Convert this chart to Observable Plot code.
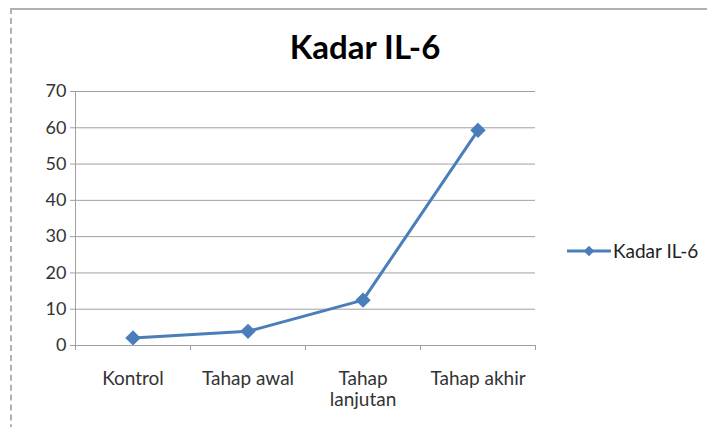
<!DOCTYPE html>
<html>
<head>
<meta charset="utf-8">
<script src="https://cdn.jsdelivr.net/npm/d3@7"></script>
<script src="https://cdn.jsdelivr.net/npm/@observablehq/plot@0.6"></script>
<style>
  html, body { margin: 0; padding: 0; background: #fff; }
  body { width: 707px; height: 427px; position: relative; overflow: hidden; font-family: Lato, "Open Sans", sans-serif; }
  #frame { position: absolute; left: 10px; top: 8px; width: 760px; height: 460px; border-left: 2px dashed #b0b0b0; border-top: 2px solid #b0b0b0; }
  #title { position: absolute; left: 0; top: 26px; width: 730px; text-align: center; font-size: 33px; font-weight: bold; color: #000; }
  #chart { position: absolute; left: 0; top: 75px; }
  #legend { position: absolute; left: 566px; top: 239px; display: flex; align-items: center; font-size: 19px; color: #222; }
  #legend svg { display: block; margin-right: 1px; }
</style>
</head>
<body>
<div id="frame"></div>
<div id="title">Kadar IL-6</div>
<div id="chart"></div>
<div id="legend"></div>
<script>
const seriesName = "Kadar IL-6";
const categories = ["Kontrol", "Tahap awal", "Tahap lanjutan", "Tahap akhir"];
const tickLabels = ["Kontrol", "Tahap awal", "Tahap\nlanjutan", "Tahap akhir"];
const values = [2.1, 3.9, 12.5, 59.3];
const yTicks = [0, 10, 20, 30, 40, 50, 60, 70];

const lineColor = "#4a7ebb";
const data = categories.map((c, i) => ({i, category: c, value: values[i]}));
const idx = d3.range(categories.length);
const boundaries = d3.range(categories.length + 1).map(k => k - 0.5);

const chart = Plot.plot({
  width: 707,
  height: 352,
  marginLeft: 75,
  marginRight: 172,
  marginTop: 16,
  marginBottom: 82,
  style: {fontFamily: "Lato, 'Open Sans', sans-serif", fontSize: "18px", color: "#333", background: "transparent"},
  x: {domain: [-0.5, categories.length - 0.5]},
  y: {domain: [0, 70]},
  marks: [
    Plot.gridY(yTicks.filter(t => t > 0), {stroke: "#a0a0a0", strokeOpacity: 1, strokeWidth: 1}),
    Plot.axisY(yTicks, {tickSize: 5, tickPadding: 4, stroke: "#a0a0a0", tickFormat: d => d, label: null, fill: "#333", fontSize: 18}),
    Plot.axisX(boundaries, {tickSize: 5, tickFormat: () => "", stroke: "#a0a0a0", label: null}),
    Plot.axisX(idx, {tickSize: 0, tickPadding: 25, tickFormat: i => tickLabels[i], label: null, fill: "#333", fontSize: 19, lineHeight: 1.1}),
    Plot.ruleY([0], {stroke: "#a0a0a0", strokeWidth: 1}),
    Plot.ruleX([boundaries[0]], {stroke: "#a0a0a0", strokeWidth: 1}),
    Plot.line(data, {x: "i", y: "value", stroke: lineColor, strokeWidth: 3}),
    Plot.dot(data, {x: "i", y: "value", symbol: d3.symbolDiamond2, r: 6, fill: lineColor, stroke: lineColor})
  ]
});
document.getElementById("chart").appendChild(chart);

// Legend
const leg = document.getElementById("legend");
const s = d3.create("svg").attr("width", 46).attr("height", 20);
s.append("line").attr("x1", 1).attr("x2", 45).attr("y1", 10).attr("y2", 10).attr("stroke", lineColor).attr("stroke-width", 3);
s.append("path").attr("d", d3.symbol(d3.symbolDiamond2, 70)()).attr("transform", "translate(23,10)").attr("fill", lineColor);
leg.appendChild(s.node());
const t = document.createElement("span");
t.textContent = seriesName;
leg.appendChild(t);
</script>
</body>
</html>
